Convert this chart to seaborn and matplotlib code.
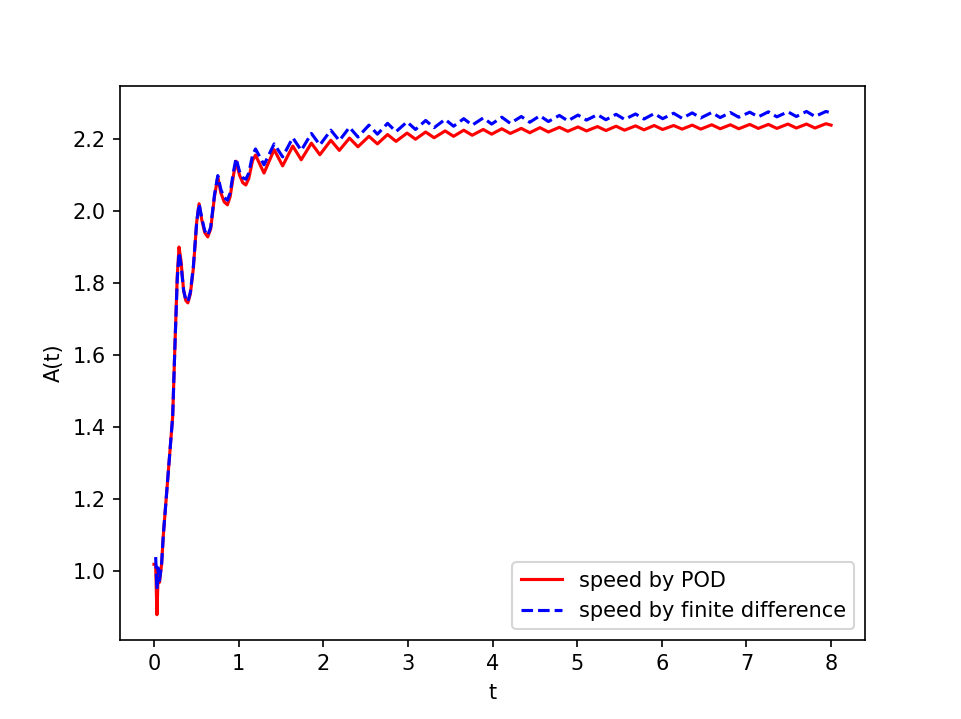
import matplotlib
matplotlib.use('Agg')
import matplotlib.pyplot as plt
import seaborn as sns

# A(t) computed from the POD speed
t_pod = [0.0, 0.02, 0.035, 0.05, 0.065, 0.09, 0.11, 0.158, 0.221, 0.248, 0.275, 0.296,
         0.32, 0.35, 0.375, 0.40, 0.43, 0.465, 0.505, 0.533, 0.565, 0.60, 0.635, 0.67,
         0.715, 0.754, 0.79, 0.83, 0.868, 0.90, 0.94, 0.97, 1.01, 1.05, 1.085, 1.12,
         1.165, 1.20, 1.30, 1.42, 1.52, 1.64, 1.74, 1.86, 1.96, 2.09, 2.19, 2.31, 2.41,
         2.54, 2.64, 2.76, 2.86, 2.99, 3.09, 3.21, 3.31, 3.44, 3.54, 3.66, 3.76, 3.89,
         3.99, 4.11, 4.21, 4.34, 4.44, 4.56, 4.66, 4.79, 4.89, 5.01, 5.11, 5.24, 5.34,
         5.46, 5.56, 5.69, 5.79, 5.91, 6.01, 6.14, 6.24, 6.36, 6.46, 6.59, 6.69, 6.81,
         6.91, 7.04, 7.14, 7.26, 7.36, 7.49, 7.59, 7.71, 7.81, 7.94, 8.0]
a_pod = [1.02, 1.02, 0.88, 1.0, 0.97, 1.02, 1.10, 1.243, 1.43, 1.63, 1.82, 1.90,
         1.86, 1.78, 1.752, 1.745, 1.77, 1.84, 1.97, 2.02, 1.975, 1.94, 1.928, 1.95,
         2.04, 2.095, 2.05, 2.025, 2.017, 2.04, 2.10, 2.138, 2.10, 2.078, 2.072, 2.09,
         2.14, 2.155, 2.105, 2.17, 2.125, 2.18, 2.142, 2.188, 2.156, 2.196, 2.168, 2.202, 2.178,
         2.207, 2.186, 2.212, 2.193, 2.216, 2.199, 2.219, 2.203, 2.222, 2.207, 2.224, 2.210, 2.226,
         2.213, 2.228, 2.215, 2.229, 2.217, 2.231, 2.219, 2.232, 2.221, 2.233, 2.222, 2.234, 2.223,
         2.235, 2.224, 2.236, 2.225, 2.237, 2.226, 2.237, 2.227, 2.238, 2.227, 2.239, 2.228, 2.239,
         2.228, 2.240, 2.229, 2.240, 2.229, 2.241, 2.230, 2.241, 2.230, 2.242, 2.238]

# A(t) computed from the finite-difference speed
t_fd = [0.02, 0.035, 0.05, 0.065, 0.09, 0.11, 0.158, 0.221, 0.248, 0.275, 0.296,
        0.32, 0.35, 0.375, 0.40, 0.43, 0.465, 0.505, 0.533, 0.565, 0.60, 0.635, 0.67,
        0.715, 0.754, 0.79, 0.83, 0.868, 0.90, 0.94, 0.97, 1.01, 1.05, 1.085, 1.12,
        1.165, 1.20, 1.30, 1.42, 1.52, 1.64, 1.74, 1.86, 1.96, 2.09, 2.19, 2.31, 2.41,
        2.54, 2.64, 2.76, 2.86, 2.99, 3.09, 3.21, 3.31, 3.44, 3.54, 3.66, 3.76, 3.89,
        3.99, 4.11, 4.21, 4.34, 4.44, 4.56, 4.66, 4.79, 4.89, 5.01, 5.11, 5.24, 5.34,
        5.46, 5.56, 5.69, 5.79, 5.91, 6.01, 6.14, 6.24, 6.36, 6.46, 6.59, 6.69, 6.81,
        6.91, 7.04, 7.14, 7.26, 7.36, 7.49, 7.59, 7.71, 7.81, 7.94, 8.0]
a_fd = [1.04, 0.95, 1.01, 0.975, 1.02, 1.10, 1.243, 1.43, 1.63, 1.81, 1.885,
        1.85, 1.78, 1.755, 1.748, 1.775, 1.845, 1.97, 2.02, 1.98, 1.945, 1.932, 1.955,
        2.045, 2.098, 2.06, 2.037, 2.03, 2.05, 2.11, 2.146, 2.11, 2.092, 2.088, 2.105,
        2.155, 2.172, 2.128, 2.186, 2.15, 2.203, 2.168, 2.215, 2.183, 2.224, 2.195, 2.232, 2.205,
        2.238, 2.213, 2.243, 2.220, 2.247, 2.226, 2.251, 2.231, 2.254, 2.235, 2.256, 2.238, 2.258,
        2.241, 2.260, 2.243, 2.262, 2.246, 2.264, 2.248, 2.265, 2.250, 2.266, 2.252, 2.267, 2.253,
        2.268, 2.254, 2.269, 2.255, 2.270, 2.256, 2.271, 2.257, 2.272, 2.258, 2.273, 2.259, 2.273,
        2.260, 2.274, 2.261, 2.275, 2.261, 2.275, 2.262, 2.276, 2.262, 2.276, 2.272]

x_ticks = [0, 1, 2, 3, 4, 5, 6, 7, 8]

fig, ax = plt.subplots(figsize=(961 / 150, 719 / 150), dpi=150)
sns.lineplot(x=t_pod, y=a_pod, color='red', linestyle='-', linewidth=1.5,
             estimator=None, sort=False, label='speed by POD', ax=ax)
sns.lineplot(x=t_fd, y=a_fd, color='blue', linestyle='--', linewidth=1.5,
             estimator=None, sort=False, label='speed by finite difference', ax=ax)
ax.set_xticks(x_ticks)
ax.set_xlabel('t')
ax.set_ylabel('A(t)')
ax.legend(loc='lower right')
fig.savefig('out.png', dpi=150)
